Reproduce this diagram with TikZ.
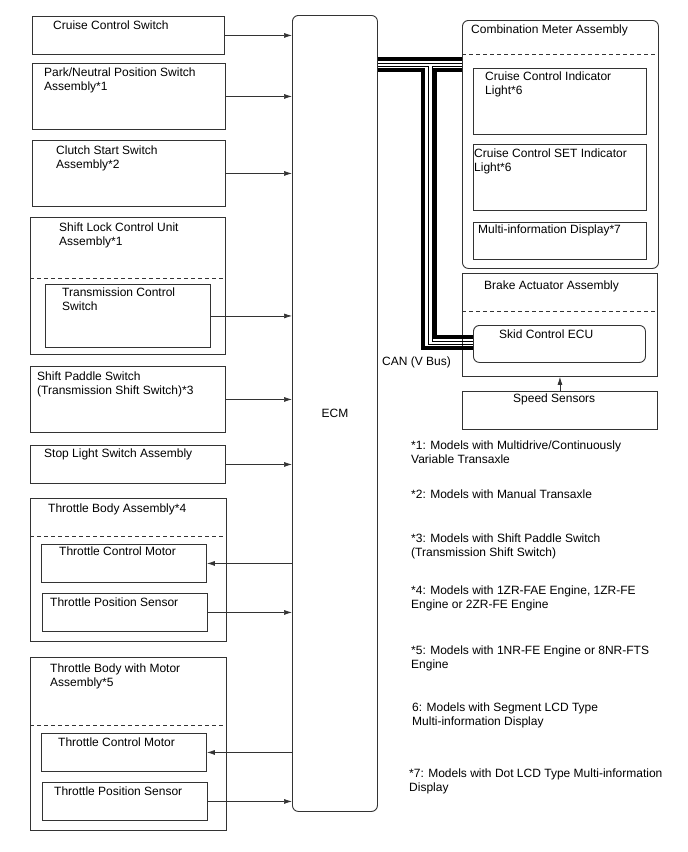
\documentclass[tikz,border=0pt]{standalone}
\usepackage{fontspec}
\setmainfont{Liberation Sans}
\usetikzlibrary{arrows.meta}

\begin{document}
\begin{tikzpicture}[
  x=1pt, y=-1pt,
  box/.style={draw=black!80, line width=0.9pt, anchor=north west, inner sep=0pt},
  rbox/.style={box, rounded corners=6pt},
  txt/.style={anchor=north west, inner sep=0pt, align=left, font=\fontsize{12}{14.5}\selectfont},
  sep/.style={draw=black!80, line width=0.9pt, dash pattern=on 4pt off 3pt},
  sig/.style={draw=black!80, line width=0.7pt},
  canbus/.style={line width=3.5pt},
  canwire/.style={line width=0.9pt},
  >={Latex[length=8pt,width=5pt]}
]
  \useasboundingbox (0,0) rectangle (688,852);

  % ECM
  \node[rbox, minimum width=85pt, minimum height=796pt, font=\fontsize{12}{14.5}\selectfont] (ecm) at (292,15) {ECM};

  % Inputs (left)
  \node[box, minimum width=192pt, minimum height=38pt] (ccs) at (32,16) {};
  \node[txt] (ccs-t) at (53,20.5) {Cruise Control Switch};
  \node[box, minimum width=193pt, minimum height=66pt] (pnp) at (32,63) {};
  \node[txt] (pnp-t) at (44,67.5) {Park/Neutral Position Switch\\Assembly*1};
  \node[box, minimum width=193pt, minimum height=66pt] (css) at (32,140) {};
  \node[txt] (css-t) at (56,145.5) {Clutch Start Switch\\Assembly*2};

  \node[box, minimum width=195pt, minimum height=137pt] (slc) at (30,217) {};
  \node[txt] (slc-t) at (59,222.5) {Shift Lock Control Unit\\Assembly*1};
  \draw[sep] (slc.west |- 0,278) -- (slc.east |- 0,278);
  \node[box, minimum width=165pt, minimum height=63pt] (tcs) at (45,284) {};
  \node[txt] (tcs-t) at (62,287.5) {Transmission Control\\Switch};

  \node[box, minimum width=195pt, minimum height=66pt] (sps) at (30,366) {};
  \node[txt] (sps-t) at (37,371.5) {Shift Paddle Switch\\(Transmission Shift Switch)*3};
  \node[box, minimum width=195pt, minimum height=38pt] (sls) at (30,445) {};
  \node[txt] (sls-t) at (44,448.5) {Stop Light Switch Assembly};

  % Throttle body *4
  \node[box, minimum width=196pt, minimum height=143pt] (tba) at (30,498) {};
  \node[txt] (tba-t) at (48,503.5) {Throttle Body Assembly*4};
  \draw[sep] (tba.west |- 0,536) -- (tba.east |- 0,536);
  \node[box, minimum width=165pt, minimum height=38pt] (tcma) at (41,544) {};
  \node[txt] (tcma-t) at (59,546.5) {Throttle Control Motor};
  \node[box, minimum width=165pt, minimum height=38pt] (tpsa) at (42,593) {};
  \node[txt] (tpsa-t) at (50,597.5) {Throttle Position Sensor};

  % Throttle body *5
  \node[box, minimum width=196pt, minimum height=173pt] (tbm) at (30,657) {};
  \node[txt] (tbm-t) at (50,663.5) {Throttle Body with Motor\\Assembly*5};
  \draw[sep] (tbm.west |- 0,725) -- (tbm.east |- 0,725);
  \node[box, minimum width=165pt, minimum height=38pt] (tcmb) at (41,733) {};
  \node[txt] (tcmb-t) at (58,737.5) {Throttle Control Motor};
  \node[box, minimum width=165pt, minimum height=38pt] (tpsb) at (42,782) {};
  \node[txt] (tpsb-t) at (54,786.5) {Throttle Position Sensor};

  % Combination meter
  \node[rbox, minimum width=196pt, minimum height=248pt] (cma) at (462,20) {};
  \node[txt] (cma-t) at (471,24.5) {Combination Meter Assembly};
  \draw[sep] (cma.west |- 0,54) -- (cma.east |- 0,54);
  \node[box, minimum width=173pt, minimum height=66pt] (cci) at (473,68) {};
  \node[txt] (cci-t) at (485,71.5) {Cruise Control Indicator\\Light*6};
  \node[box, minimum width=173pt, minimum height=66pt] (cset) at (473,144) {};
  \node[txt] (cset-t) at (474,148.5) {Cruise Control SET Indicator\\Light*6};
  \node[box, minimum width=173pt, minimum height=37pt] (mid) at (473,222) {};
  \node[txt] (mid-t) at (478,224.5) {Multi-information Display*7};

  % Brake actuator
  \node[box, minimum width=195pt, minimum height=103pt] (baa) at (462,273) {};
  \node[txt] (baa-t) at (484,280.5) {Brake Actuator Assembly};
  \draw[sep] (baa.west |- 0,311) -- (baa.east |- 0,311);
  \node[rbox, minimum width=172pt, minimum height=37pt] (scu) at (473,325) {};
  \node[txt] (scu-t) at (499,329.5) {Skid Control ECU};
  \node[box, minimum width=195pt, minimum height=38pt] (spd) at (462,391) {};
  \node[txt] (spd-t) at (513,393.5) {Speed Sensors};

  % Signal lines
  \draw[sig, ->] (ccs.east) -- (ccs.east -| ecm.west);
  \draw[sig, ->] (pnp.east) -- (pnp.east -| ecm.west);
  \draw[sig, ->] (css.east) -- (css.east -| ecm.west);
  \draw[sig, ->] (tcs.east) -- (tcs.east -| ecm.west);
  \draw[sig, ->] (sps.east) -- (sps.east -| ecm.west);
  \draw[sig, ->] (sls.east) -- (sls.east -| ecm.west);
  \draw[sig, ->] (ecm.west |- tcma.east) -- (tcma.east);
  \draw[sig, ->] (tpsa.east) -- (tpsa.east -| ecm.west);
  \draw[sig, ->] (ecm.west |- tcmb.east) -- (tcmb.east);
  \draw[sig, ->] (tpsb.east) -- (tpsb.east -| ecm.west);
  \draw[sig, ->] (spd.north) -- (baa.south);

  % CAN (V Bus)
  \draw[canbus] (ecm.east |- 0,59) -- (cma.west |- 0,59);
  \draw[canwire] (ecm.east |- 0,63) -- (cma.west |- 0,63);
  \draw[canbus] (ecm.east |- 0,70) -- (423,70) -- (423,348) -- (scu.west |- 0,348);
  \draw[canwire] (ecm.east |- 0,66) -- (428,66) -- (428,344) -- (scu.west |- 0,344);
  \draw[canwire] (cma.west |- 0,66) -- (432,66) -- (432,341) -- (scu.west |- 0,341);
  \draw[canbus] (cma.west |- 0,70) -- (435,70) -- (435,337) -- (scu.west |- 0,337);
  \node[txt] (can-t) at (382,356.5) {CAN (V Bus)};

  % Notes
  \node[txt] (n1) at (411,440.5) {*1: Models with Multidrive/Continuously\\Variable Transaxle};
  \node[txt] (n2) at (411,489.5) {*2: Models with Manual Transaxle};
  \node[txt] (n3) at (411,533.5) {*3: Models with Shift Paddle Switch\\(Transmission Shift Switch)};
  \node[txt] (n4) at (411,585.5) {*4: Models with 1ZR-FAE Engine, 1ZR-FE\\Engine or 2ZR-FE Engine};
  \node[txt] (n5) at (411,645.5) {*5: Models with 1NR-FE Engine or 8NR-FTS\\Engine};
  \node[txt] (n6) at (412,702.5) {6: Models with Segment LCD Type\\Multi-information Display};
  \node[txt] (n7) at (409,768.5) {*7: Models with Dot LCD Type Multi-information\\Display};
\end{tikzpicture}
\end{document}
